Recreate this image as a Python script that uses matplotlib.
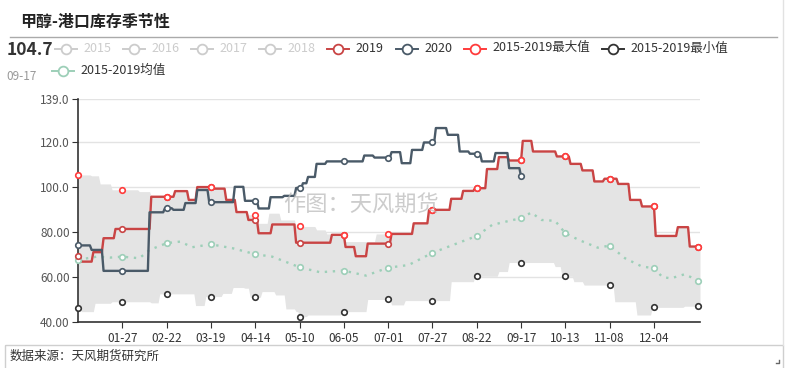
import numpy as np
import matplotlib
matplotlib.use('Agg')
import matplotlib.pyplot as plt
from matplotlib.lines import Line2D
from matplotlib.patches import Rectangle

plt.rcParams['font.family'] = ['Noto Sans CJK SC', 'DejaVu Sans']

# ---- data (day index from 01-01, leap year categories, 366 days) ----
y2019_days = [0, 2, 9, 15, 22, 43, 57, 65, 70, 80, 87, 93, 100, 106, 114, 128, 149, 157, 163, 170,
              184, 197, 206, 219, 226, 233, 240, 247, 253, 261, 267, 281, 289, 296, 303, 309, 317,
              324, 331, 339, 352, 359]
y2019_vals = [69.5, 66.8, 71.0, 77.2, 81.3, 95.6, 98.1, 94.2, 99.9, 99.2, 94.2, 88.8, 85.3, 79.4, 83.3,
              75.2, 78.7, 73.3, 69.2, 74.8, 79.1, 83.8, 89.8, 94.7, 98.2, 99.4, 107.9, 113.2, 111.7,
              120.4, 115.7, 113.5, 110.2, 107.3, 102.4, 103.6, 101.3, 94.2, 91.3, 78.2, 82.1, 73.5]

y2020_days = [0, 8, 15, 42, 51, 56, 63, 70, 77, 92, 98, 106, 113, 121, 128, 132, 135, 140, 146, 168,
              174, 184, 190, 196, 203, 210, 217, 224, 230, 237, 245, 253, 260]
y2020_vals = [74.0, 72.0, 62.7, 88.7, 90.5, 89.8, 92.8, 98.6, 93.2, 100.0, 93.8, 90.4, 95.4, 96.0, 99.5,
              101.6, 104.4, 110.2, 111.3, 113.9, 113.0, 115.4, 110.5, 116.4, 119.7, 126.1, 123.1,
              115.7, 114.7, 111.3, 115.0, 108.3, 104.7]

max_days = [0, 8, 13, 20, 36, 43, 57, 65, 70, 80, 87, 93, 100, 106, 112, 119, 128, 140, 146, 149, 157,
            175, 184, 197, 206, 219, 226, 233, 240, 247, 253, 261, 267, 281, 289, 296, 303, 309, 317,
            324, 331, 339, 352, 359]
max_vals = [105.3, 104.9, 101.3, 98.7, 97.9, 95.6, 98.1, 94.2, 99.9, 99.2, 94.2, 88.8, 87.6, 83.8, 88.3,
            85.3, 82.4, 80.9, 79.1, 78.7, 75.7, 79.1, 79.1, 83.8, 89.8, 94.7, 98.2, 99.4, 107.9, 113.2,
            111.7, 120.4, 115.7, 113.5, 110.2, 107.3, 102.4, 103.6, 101.3, 94.2, 91.3, 78.2, 82.1, 73.5]

min_days = [0, 2, 10, 20, 43, 48, 69, 75, 85, 91, 98, 101, 108, 116, 122, 128, 130, 135, 155, 170,
            184, 192, 219, 233, 247, 253, 280, 284, 291, 297, 315, 328, 337, 356]
min_vals = [46.1, 44.6, 48.3, 49.0, 48.5, 52.5, 47.3, 51.3, 52.7, 55.3, 55.0, 51.0, 53.5, 52.0, 45.8,
            44.6, 42.4, 43.1, 44.6, 50.0, 47.6, 49.5, 57.9, 60.3, 62.4, 66.4, 64.6, 60.3, 57.9, 56.4,
            49.0, 43.1, 46.5, 47.0]

mean_days = [0, 11, 19, 26, 36, 42, 52, 60, 67, 78, 91, 104, 114, 124, 130, 142, 156, 169, 182, 194,
             208, 220, 234, 243, 253, 260, 266, 272, 280, 286, 294, 305, 312, 321, 331, 338, 343, 348,
             356, 364]
mean_vals = [67.6, 69.0, 68.6, 69.0, 68.3, 72.0, 75.0, 75.7, 73.2, 74.5, 72.7, 70.1, 69.0, 66.1, 64.3,
             62.1, 62.8, 60.6, 64.1, 65.3, 70.7, 74.2, 78.2, 83.1, 84.9, 86.1, 88.6, 85.3, 84.9, 79.4,
             76.4, 73.0, 73.9, 68.3, 64.6, 63.9, 59.9, 59.4, 61.2, 58.4]

tick_labels = ['01-27', '02-22', '03-19', '04-14', '05-10', '06-05', '07-01', '07-27',
               '08-22', '09-17', '10-13', '11-08', '12-04']
ytick_vals = [40, 60, 80, 100, 120, 139]
ytick_labels = ['40.00', '60.00', '80.00', '100.0', '120.0', '139.0']
legend_names = ['2015', '2016', '2017', '2018', '2019', '2020', '2015-2019最大值', '2015-2019最小值']
mean_name = '2015-2019均值'
last_value, last_date = '104.7', '09-17'


def daily(days, vals, n):
    idx = np.searchsorted(days, np.arange(n), side='right') - 1
    return np.asarray(vals)[idx]


N = 366
x = np.arange(N)
d19 = daily(y2019_days, y2019_vals, N)
d20 = daily(y2020_days, y2020_vals, y2020_days[-1] + 1)
dmax = daily(max_days, max_vals, N)
dmin = daily(min_days, min_vals, N)
marks = np.arange(0, N, 26)

C19, C20, CMAX, CMIN, CMEAN = '#c94444', '#4a5a68', '#ff3b3b', '#333333', '#9dcfb8'
MS, MEW = 4, 1.2

W, H = 789, 368
fig = plt.figure(figsize=(W / 100, H / 100), dpi=100)
ax = fig.add_axes([78 / W, 1 - 322 / H, (700 - 78) / W, (322 - 99) / H])

ax.fill_between(x, dmin, dmax, color='#e4e4e4', lw=0, zorder=1)
ax.plot(mean_days, mean_vals, color=CMEAN, lw=1.7, ls=(0, (1, 2.4)), zorder=2)
mk = [i for i, d in enumerate(mean_days) if d % 26 == 0]
ax.plot(np.array(mean_days)[mk], np.array(mean_vals)[mk], 'o', ms=MS, mfc='white', mec=CMEAN,
        mew=MEW, zorder=6, clip_on=False)

ax.plot(x, d19, color=C19, lw=1.7, zorder=3)
ax.plot(np.arange(len(d20)), d20, color=C20, lw=1.7, zorder=3)

ax.plot(marks, d19[marks], 'o', ms=MS, mfc='white', mec=C19, mew=MEW, zorder=6, clip_on=False)
m20 = marks[marks < len(d20)]
ax.plot(m20, d20[m20], 'o', ms=MS, mfc='white', mec=C20, mew=MEW, zorder=6, clip_on=False)
ax.plot(marks, dmax[marks], 'o', ms=MS, mfc='white', mec=CMAX, mew=MEW, zorder=6, clip_on=False)
ax.plot(marks, dmin[marks], 'o', ms=MS, mfc='white', mec=CMIN, mew=MEW, zorder=6, clip_on=False)

ax.set_xlim(0, N - 1)
ax.set_ylim(40, 139)
ax.set_yticks(ytick_vals)
ax.set_yticklabels(ytick_labels)
ax.set_xticks(np.arange(26, 339, 26))
ax.set_xticklabels(tick_labels)
ax.tick_params(axis='y', length=4, color='#333333', labelcolor='#555555', labelsize=8.5, pad=2)
ax.tick_params(axis='x', length=4, color='#333333', labelcolor='#333333', labelsize=8.5, pad=3)
ax.yaxis.grid(True, color='#e3e3e3', lw=1)
ax.set_axisbelow(True)
for s in ['top', 'right']:
    ax.spines[s].set_visible(False)
for s in ['left', 'bottom']:
    ax.spines[s].set_color('#333333')
    ax.spines[s].set_linewidth(1.2)

# ---- overlay in pixel coordinates ----
ov = fig.add_axes([0, 0, 1, 1], zorder=10)
ov.set_xlim(0, W)
ov.set_ylim(H, 0)
ov.axis('off')

ov.text(20, 22, '甲醇-港口库存季节性', fontsize=11.5, fontweight='bold', color='#222222', va='center')
ov.add_line(Line2D([10, 777], [37, 37], color='#aaaaaa', lw=1))
ov.add_line(Line2D([783, 783], [0, 345], color='#e2e2e2', lw=1))

ov.text(7, 50, last_value, fontsize=12.5, fontweight='bold', color='#333333', va='center')
ov.text(6, 76, last_date, fontsize=8.5, color='#999999', va='center')


def leg(cx, cy, color, label, tcolor):
    ov.add_line(Line2D([cx - 11, cx + 11], [cy, cy], color=color, lw=1.4))
    ov.plot([cx], [cy], 'o', ms=7, mfc='white', mec=color, mew=1.3)
    ov.text(cx + 17, cy - 1, label, fontsize=9, color=tcolor, va='center')


gray = '#cccccc'
leg(66, 49, gray, legend_names[0], gray)
leg(134, 49, gray, legend_names[1], gray)
leg(202, 49, gray, legend_names[2], gray)
leg(270, 49, gray, legend_names[3], gray)
leg(338, 49, C19, legend_names[4], '#333333')
leg(407, 49, C20, legend_names[5], '#333333')
leg(475, 49, CMAX, legend_names[6], '#333333')
leg(613, 49, CMIN, legend_names[7], '#333333')
leg(63, 71, CMEAN, mean_name, '#333333')

ov.text(361, 205, '作图：天风期货', fontsize=16, color='#bbbbbb', alpha=0.75, ha='center', va='center')

ov.add_patch(Rectangle((5, 345), 778, 30, fill=False, ec='#cfcfcf', lw=1))
ov.text(10, 356, '数据来源：天风期货研究所', fontsize=9, color='#333333', va='center')
ov.add_line(Line2D([776, 779, 779], [363, 363, 360], color='#666666', lw=1))

fig.savefig('out.png', dpi=100)
